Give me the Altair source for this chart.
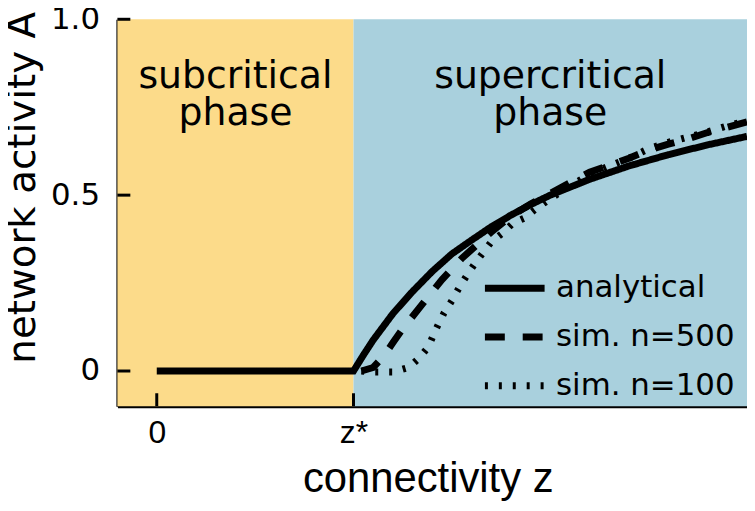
import altair as alt
import pandas as pd

# ---- data ----
phase_names = ["subcritical", "supercritical"]
phase_z0 = [-0.2, 1.0]
phase_z1 = [1.0, 3.0]
phase_colors = ["#FCDB8A", "#A9D0DD"]

phase_labels = ["subcritical\nphase", "supercritical\nphase"]
phase_label_z = [0.4, 2.0]
phase_label_a = [0.805, 0.805]

an_z = [0.0, 1.0, 1.05, 1.1, 1.2, 1.3, 1.4, 1.5, 1.6, 1.7, 1.8, 1.9, 2.0, 2.2, 2.4, 2.6, 2.8, 3.0]
an_a = [0.0, 0.0, 0.045, 0.088, 0.163, 0.226, 0.283, 0.333, 0.372, 0.41, 0.443, 0.473, 0.5, 0.545, 0.583, 0.615, 0.643, 0.667]

n500_z = [1.04, 1.1, 1.15, 1.2, 1.25, 1.3, 1.35, 1.4, 1.45, 1.5, 1.55, 1.6, 1.7, 1.8, 1.9, 2.0, 2.1, 2.2, 2.3, 2.4, 2.5, 2.6, 2.7, 2.8, 2.9, 3.0]
n500_a = [0.0, 0.01, 0.04, 0.08, 0.12, 0.155, 0.19, 0.225, 0.26, 0.29, 0.32, 0.345, 0.395, 0.44, 0.475, 0.505, 0.535, 0.565, 0.585, 0.605, 0.628, 0.645, 0.66, 0.678, 0.693, 0.708]

n100_z = [1.04, 1.1, 1.2, 1.28, 1.33, 1.38, 1.42, 1.46, 1.5, 1.54, 1.58, 1.62, 1.7, 1.76, 1.81, 1.87, 1.92, 2.0, 2.1, 2.2, 2.3, 2.4, 2.5, 2.6, 2.7, 2.8, 2.9, 3.0]
n100_a = [0.0, -0.003, -0.003, 0.01, 0.035, 0.068, 0.12, 0.165, 0.2, 0.24, 0.275, 0.308, 0.367, 0.393, 0.42, 0.435, 0.458, 0.49, 0.525, 0.56, 0.583, 0.605, 0.632, 0.65, 0.665, 0.68, 0.697, 0.712]

series_names = ["analytical", "sim. n=500", "sim. n=100"]
series_dash = [[1, 0], [20, 18], [3, 11]]

x_tick_values = [0, 1]
y_tick_values = [0, 0.5, 1.0]
x_domain = [-0.2, 3.0]
y_domain = [-0.1, 1.0]

W, H = 633, 389

# ---- tables ----
phases = pd.DataFrame({"phase": phase_names, "z0": phase_z0, "z1": phase_z1})
labels = pd.DataFrame({"text": phase_labels, "z": phase_label_z, "a": phase_label_a})
lines = pd.concat([
    pd.DataFrame({"z": an_z, "A": an_a, "series": series_names[0]}),
    pd.DataFrame({"z": n500_z, "A": n500_a, "series": series_names[1]}),
    pd.DataFrame({"z": n100_z, "A": n100_a, "series": series_names[2]}),
], ignore_index=True)
xticks = pd.DataFrame({"z": x_tick_values})
yticks = pd.DataFrame({"A": y_tick_values})

xs = alt.Scale(domain=x_domain, nice=False, zero=False)
ys = alt.Scale(domain=y_domain, nice=False, zero=False)

ax_x = alt.Axis(values=x_tick_values, ticks=False, tickSize=0, grid=False,
                labelExpr="datum.value == 1 ? 'z*' : datum.label",
                labelFont="Liberation Sans", labelFontSize=32, labelColor="black",
                labelPadding=12, labelFlush=False, labelOverlap=False,
                domainColor="black", domainWidth=3,
                titleFont="Liberation Sans", titleFontSize=42, titleFontWeight="normal",
                titleColor="black", titleX=312, titleY=86, titleBaseline="alphabetic",
                titleAlign="center")
ax_y = alt.Axis(values=y_tick_values, ticks=False, tickSize=0, grid=False,
                labelExpr="datum.value == 0 ? '0' : format(datum.value, '.1f')",
                labelFont="DejaVu Sans", labelFontSize=31, labelColor="black",
                labelPadding=18, labelFlush=False, labelOverlap=False,
                labelBaseline="middle",
                domainColor="black", domainWidth=3,
                titleFont="DejaVu Sans", titleFontSize=39, titleFontWeight="normal",
                titleColor="black", titleX=-83, titleY=169, titleBaseline="alphabetic",
                titleAlign="center", titleAngle=270)
XT = "connectivity z"
YT = "network activity A"

rects = alt.Chart(phases).mark_rect().encode(
    x=alt.X("z0:Q", scale=xs, axis=ax_x, title=XT),
    x2="z1:Q",
    y=alt.value(0),
    y2=alt.value(H),
    color=alt.Color("phase:N", scale=alt.Scale(domain=phase_names, range=phase_colors), legend=None),
)

texts = alt.Chart(labels).mark_text(
    font="DejaVu Sans", fontSize=38, lineBreak="\n", lineHeight=37,
    align="center", baseline="alphabetic", color="black",
).encode(
    x=alt.X("z:Q", scale=xs, axis=ax_x, title=XT),
    y=alt.Y("a:Q", scale=ys, axis=ax_y, title=YT),
    text="text:N",
)

curves = alt.Chart(lines).mark_line(color="black", strokeWidth=7, strokeCap="butt", clip=True).encode(
    x=alt.X("z:Q", scale=xs, axis=ax_x, title=XT),
    y=alt.Y("A:Q", scale=ys, axis=ax_y, title=YT),
    strokeDash=alt.StrokeDash("series:N",
                              scale=alt.Scale(domain=series_names, range=series_dash),
                              legend=alt.Legend(title=None, orient="none", legendX=366, legendY=237,
                                                symbolType="stroke", symbolSize=3600,
                                                symbolStrokeWidth=7, symbolStrokeColor="black",
                                                labelFont="DejaVu Sans", labelFontSize=31,
                                                labelColor="black", labelOffset=8, labelLimit=400,
                                                rowPadding=-5, padding=0)),
)

xtick_marks = alt.Chart(xticks).mark_rule(color="black", strokeWidth=3).encode(
    x=alt.X("z:Q", scale=xs, axis=ax_x, title=XT),
    y=alt.value(H),
    y2=alt.value(H - 13),
)
ytick_marks = alt.Chart(yticks).mark_rule(color="black", strokeWidth=3).encode(
    y=alt.Y("A:Q", scale=ys, axis=ax_y, title=YT),
    x=alt.value(0),
    x2=alt.value(13),
)

chart = alt.layer(rects, texts, curves, xtick_marks, ytick_marks).properties(
    width=W, height=H,
    autosize=alt.AutoSizeParams(type="none"),
    padding={"left": 110, "top": 10, "right": 0, "bottom": 95},
).configure_view(stroke=None).configure_axis(grid=False)

chart.save("out.html", embed_options={"renderer": "svg", "actions": False})
